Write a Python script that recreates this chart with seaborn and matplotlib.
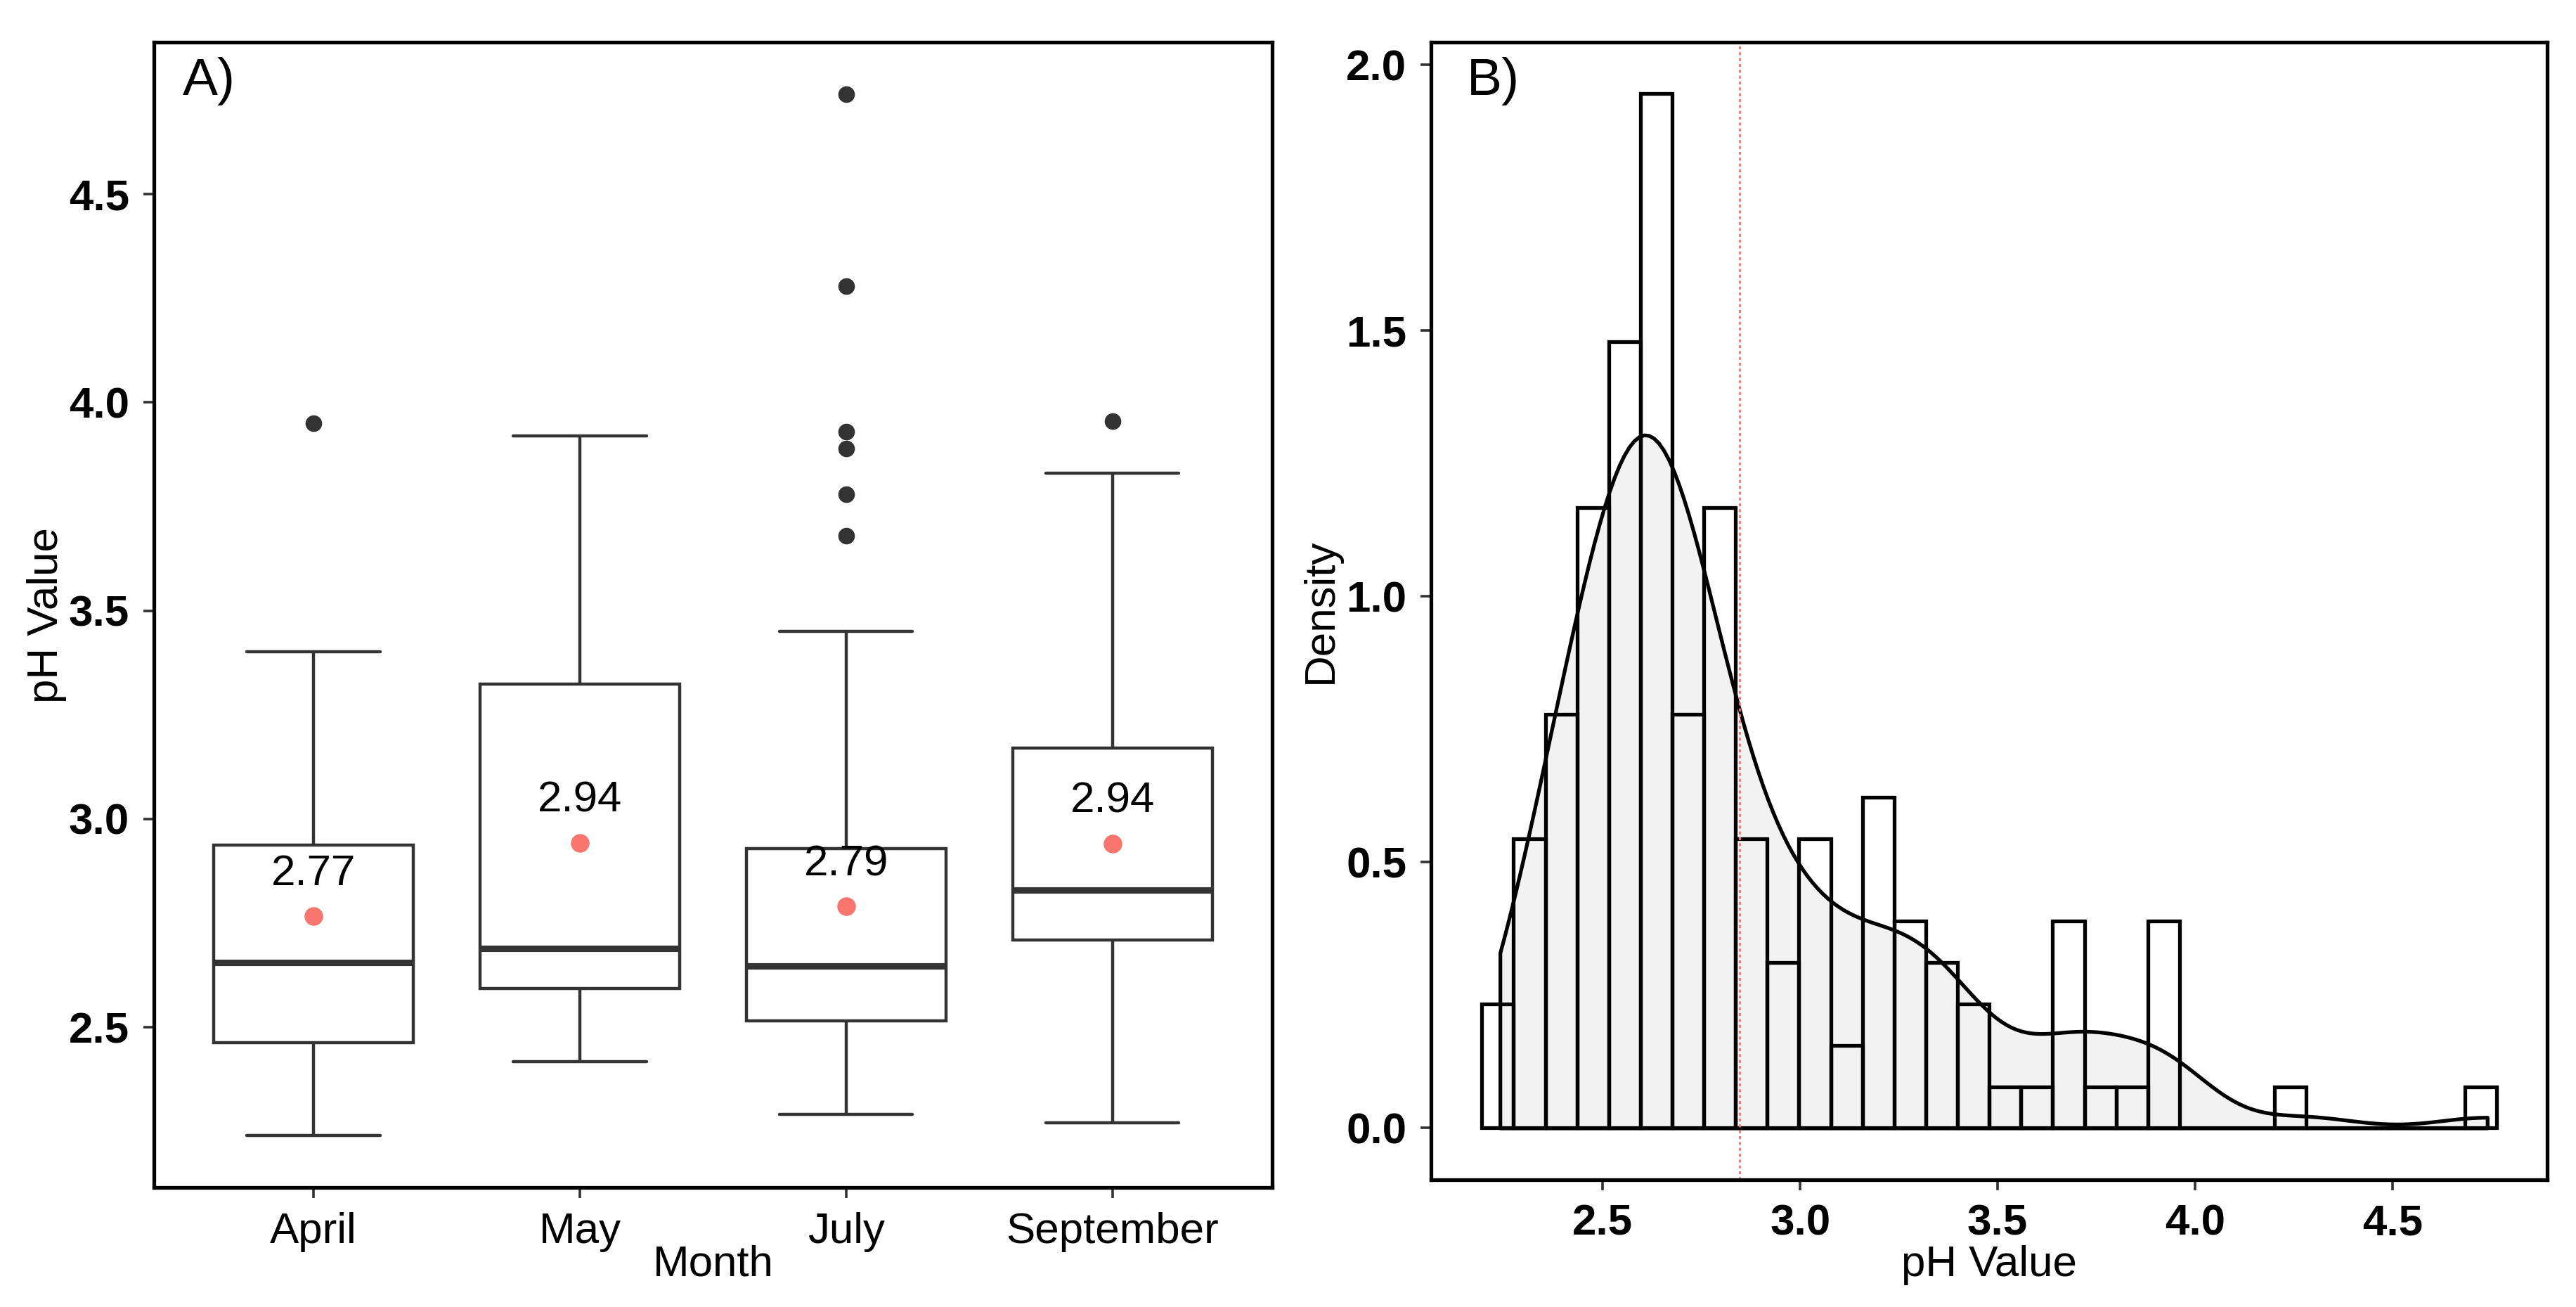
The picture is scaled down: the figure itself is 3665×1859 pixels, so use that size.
import numpy as np
import pandas as pd
import matplotlib
matplotlib.use("Agg")
import matplotlib.pyplot as plt
import seaborn as sns

months = ["April", "May", "July", "September"]

april_ph = [2.24, 2.27, 2.345, 2.35, 2.415, 2.42, 2.43, 2.455,
            2.465, 2.505, 2.51, 2.56, 2.585, 2.594, 2.64, 2.645,
            2.665, 2.672, 2.74, 2.75, 2.81, 2.83, 2.895, 2.90,
            3.048, 3.21, 3.235, 3.29, 3.31, 3.39, 3.402, 3.95]
may_ph = [2.418, 2.48, 2.50, 2.55, 2.56, 2.575, 2.58, 2.59,
          2.594, 2.62, 2.63, 2.64, 2.65, 2.655, 2.665, 2.672,
          2.706, 2.75, 2.82, 2.98, 3.06, 3.22, 3.28, 3.31,
          3.366, 3.38, 3.46, 3.54, 3.62, 3.68, 3.71, 3.92]
july_ph = [2.29, 2.30, 2.31, 2.36, 2.37, 2.38, 2.39, 2.40,
           2.44, 2.44, 2.445, 2.45, 2.46, 2.47, 2.49, 2.51,
           2.518, 2.52, 2.525, 2.53, 2.535, 2.54, 2.55, 2.56,
           2.598, 2.60, 2.605, 2.61, 2.615, 2.62, 2.63, 2.645,
           2.65, 2.655, 2.66, 2.665, 2.67, 2.673, 2.68, 2.69,
           2.71, 2.76, 2.765, 2.77, 2.78, 2.79, 2.84, 2.91,
           2.985, 2.99, 3.00, 3.005, 3.01, 3.02, 3.08, 3.16,
           3.165, 3.45, 3.68, 3.78, 3.89, 3.93, 4.28, 4.74]
sept_ph = [2.27, 2.33, 2.345, 2.43, 2.51, 2.58, 2.59, 2.70,
           2.712, 2.74, 2.76, 2.775, 2.79, 2.80, 2.815, 2.825,
           2.833, 2.87, 2.895, 2.91, 2.98, 3.07, 3.15, 3.16,
           3.20, 3.23, 3.30, 3.38, 3.67, 3.71, 3.83, 3.955]

# histogram bins (panel B)
bin_start = 2.194
bin_width = 0.0803
n_bins = 32

df = pd.DataFrame({
    "Month": ["April"] * len(april_ph) + ["May"] * len(may_ph)
             + ["July"] * len(july_ph) + ["September"] * len(sept_ph),
    "pH": april_ph + may_ph + july_ph + sept_ph,
})

sns.set_style("ticks")
plt.rcParams["font.family"] = ["Liberation Sans", "DejaVu Sans"]
plt.rcParams["text.color"] = "black"
plt.rcParams["axes.labelcolor"] = "black"

line_col = "#333333"
mean_col = "#F8766D"
fs = 22.3

fig = plt.figure(figsize=(18.33, 9.295), dpi=200)
fig.patch.set_facecolor("white")
ax1 = fig.add_axes([0.0597, 0.0914, 0.434, 0.8763])
ax2 = fig.add_axes([0.5554, 0.0974, 0.4332, 0.8704])

# ---- A) boxplot by month
sns.boxplot(data=df, x="Month", y="pH", order=months, ax=ax1, width=0.75,
            color="white", saturation=1, linecolor=line_col, linewidth=1.6,
            whis=1.5, fliersize=7.5, capwidths=0.5,
            flierprops=dict(marker="o", markerfacecolor=line_col,
                            markeredgecolor=line_col),
            medianprops=dict(linewidth=3.3, color=line_col))
sns.pointplot(data=df, x="Month", y="pH", order=months, ax=ax1,
              estimator="mean", errorbar=None, linestyle="none",
              color=mean_col, markers="o", markersize=7.5)

means = df.groupby("Month")["pH"].mean()
for i, m in enumerate(months):
    ax1.text(i, means[m] + 0.1, f"{means[m]:.2f}", ha="center", va="center",
             fontsize=fs, color="black")

lo, hi = df["pH"].min(), df["pH"].max()
pad = 0.05 * (hi - lo)
ax1.set_ylim(lo - pad, hi + pad)
ax1.set_xlim(-0.6, 3.6)
ax1.set_yticks([2.5, 3.0, 3.5, 4.0, 4.5])
ax1.set_xlabel("Month", fontsize=fs)
ax1.set_ylabel("pH Value", fontsize=fs)
ax1.xaxis.set_label_coords(0.5, -0.05)
ax1.yaxis.set_label_coords(-0.078, 0.5)
ax1.text(0.026, 0.987, "A)", transform=ax1.transAxes, fontsize=27, va="top")

# ---- B) histogram + density
all_ph = df["pH"].to_numpy()
sd = all_ph.std(ddof=1)
iqr = np.subtract(*np.percentile(all_ph, [75, 25]))
bw_adj = 0.9 * min(sd, iqr / 1.34) / sd

sns.kdeplot(x=all_ph, ax=ax2, fill=True, cut=0, bw_adjust=bw_adj,
            facecolor="#F2F2F2", edgecolor="black", linewidth=1.9, alpha=1)
bin_end = bin_start + n_bins * bin_width
sns.histplot(x=all_ph, ax=ax2, stat="density", bins=n_bins,
             binrange=(bin_start, bin_end), facecolor="none",
             edgecolor="black", linewidth=1.9)
ax2.axvline(all_ph.mean(), color=mean_col, lw=1.0, ls=(0, (1.5, 1.5)))

top = max(p.get_height() for p in ax2.patches)
ax2.set_ylim(-0.05 * top, 1.05 * top)
span = bin_end - bin_start
ax2.set_xlim(bin_start - 0.05 * span, bin_end + 0.05 * span)
ax2.set_xticks([2.5, 3.0, 3.5, 4.0, 4.5])
ax2.set_yticks([0.0, 0.5, 1.0, 1.5, 2.0])
ax2.set_xlabel("pH Value", fontsize=fs)
ax2.set_ylabel("Density", fontsize=fs)
ax2.xaxis.set_label_coords(0.5, -0.0575)
ax2.yaxis.set_label_coords(-0.0806, 0.5)
ax2.text(0.032, 0.987, "B)", transform=ax2.transAxes, fontsize=27, va="top")

for ax in (ax1, ax2):
    for sp in ax.spines.values():
        sp.set_visible(True)
        sp.set_color("black")
        sp.set_linewidth(1.9)
    ax.tick_params(length=5.5, width=1.3, color=line_col, labelsize=fs,
                   pad=7, labelcolor="black")
    ax.grid(False)

for lab in ax1.get_yticklabels() + ax2.get_xticklabels() + ax2.get_yticklabels():
    lab.set_fontweight("bold")

fig.savefig("out.png", dpi=200, facecolor="white")
